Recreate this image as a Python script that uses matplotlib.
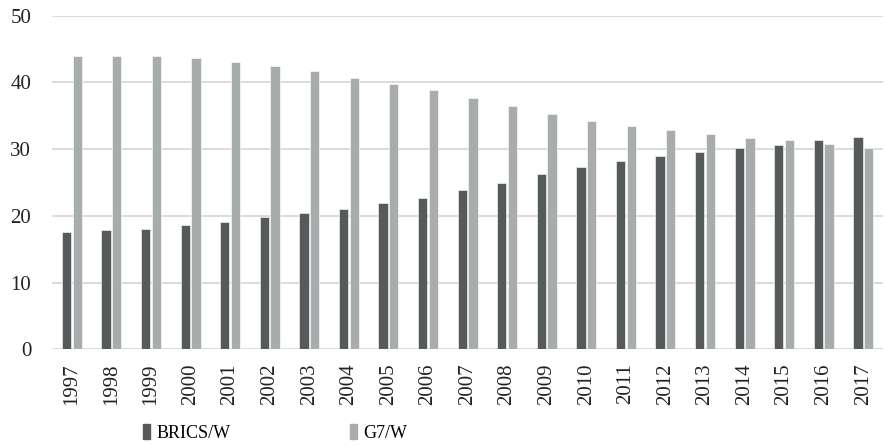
import matplotlib
matplotlib.use("Agg")
import matplotlib.pyplot as plt
import numpy as np
from matplotlib.patches import Patch

# share of world figures, 1997-2017
years = [str(y) for y in range(1997, 2018)]
brics = [17.6, 17.9, 18.1, 18.6, 19.1, 19.8, 20.5, 21.0, 22.0, 22.7, 23.9,
         24.9, 26.3, 27.3, 28.2, 29.0, 29.6, 30.1, 30.6, 31.3, 31.8]
g7 = [44.0, 44.0, 44.0, 43.6, 43.1, 42.4, 41.7, 40.7, 39.7, 38.8, 37.6,
      36.4, 35.2, 34.2, 33.5, 32.8, 32.3, 31.6, 31.3, 30.8, 30.2]
series_names = ["BRICS/W", "G7/W"]

c_brics = "#575a5a"
c_g7 = "#a9acac"

plt.rcParams["font.family"] = ["Liberation Serif", "DejaVu Serif"]

fig = plt.figure(figsize=(8.85, 4.46), dpi=100)
ax = fig.add_axes([0.0588, 0.2168, 0.939, 0.748])

x = np.arange(len(years))
w = 0.235
ax.bar(x - 0.135, brics, width=w, color=c_brics, edgecolor="white", linewidth=0.4)
ax.bar(x + 0.135, g7, width=w, color=c_g7, edgecolor="white", linewidth=0.4)

ax.set_xlim(-0.5, len(years) - 0.5)
ax.set_ylim(0, 50)
ax.set_yticks(range(0, 51, 10))
ax.yaxis.grid(True, color="#d9d9d9", linewidth=1.3)
ax.set_axisbelow(True)
for s in ax.spines.values():
    s.set_visible(False)

ax.set_xticks(x)
ax.set_xticklabels(years, rotation=90, fontsize=15, color="#222222")
ax.tick_params(axis="x", length=0, pad=10)
ax.tick_params(axis="y", length=0, pad=15, labelsize=15, labelcolor="#222222")

handles = [Patch(color=c_brics), Patch(color=c_g7)]
fig.legend(handles, series_names, loc="center left", bbox_to_anchor=(143 / 885, 0.029),
           ncol=2, frameon=False, fontsize=13, handlelength=0.4, handleheight=0.9,
           handletextpad=0.35, columnspacing=6.6, borderpad=0, borderaxespad=0)

fig.savefig("out.png", dpi=100)
